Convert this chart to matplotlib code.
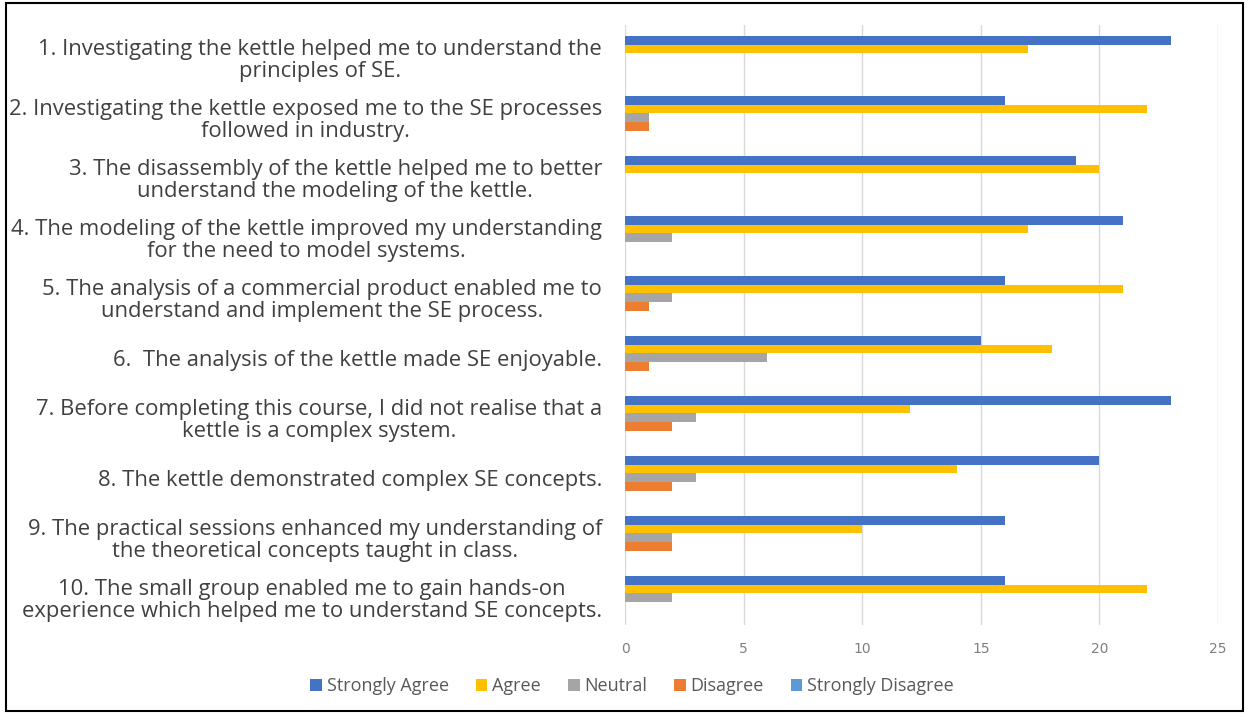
import numpy as np
from matplotlib import pyplot as plt
from matplotlib.patches import Rectangle

questions = [
    "1. Investigating the kettle helped me to understand the\nprinciples of SE.",
    "2. Investigating the kettle exposed me to the SE processes\nfollowed in industry.",
    "3. The disassembly of the kettle helped me to better\nunderstand the modeling of the kettle.",
    "4. The modeling of the kettle improved my understanding\nfor the need to model systems.",
    "5. The analysis of a commercial product enabled me to\nunderstand and implement the SE process.",
    "6.  The analysis of the kettle made SE enjoyable.",
    "7. Before completing this course, I did not realise that a\nkettle is a complex system.",
    "8. The kettle demonstrated complex SE concepts.",
    "9. The practical sessions enhanced my understanding of\nthe theoretical concepts taught in class.",
    "10. The small group enabled me to gain hands-on\nexperience which helped me to understand SE concepts.",
]

strongly_agree = [23, 16, 19, 21, 16, 15, 23, 20, 16, 16]
agree = [17, 22, 20, 17, 21, 18, 12, 14, 10, 22]
neutral = [0, 1, 0, 2, 2, 6, 3, 3, 2, 2]
disagree = [0, 1, 0, 0, 1, 1, 2, 2, 2, 0]
strongly_disagree = [0, 0, 0, 0, 0, 0, 0, 0, 0, 0]

series = [
    ("Strongly Agree", strongly_agree, "#4472C4"),
    ("Agree", agree, "#FFC000"),
    ("Neutral", neutral, "#A5A5A5"),
    ("Disagree", disagree, "#ED7D31"),
    ("Strongly Disagree", strongly_disagree, "#5B9BD5"),
]

fig = plt.figure(figsize=(12.48, 7.13), dpi=100)
ax = fig.add_axes([625 / 1248, 1 - 625 / 713, (1218 - 625) / 1248, 600 / 713])

# frame around the whole picture
fig.patches.append(Rectangle((6 / 1248, 2 / 713), 1237 / 1248, 708 / 713,
                             transform=fig.transFigure, fill=False,
                             edgecolor="black", linewidth=1.5))

y = np.arange(len(questions))
h = 0.145
for i, (name, vals, col) in enumerate(series):
    ax.barh(y + (i - 2) * h, vals, height=h, color=col, label=name, zorder=3)

shift = -0.046
ax.set_xlim(0, 25)
ax.set_ylim(len(questions) - 0.5 + shift, -0.5 + shift)
ax.set_xticks(range(0, 26, 5))
ax.xaxis.grid(True, color="#D9D9D9", linewidth=1, zorder=0)
for s in ax.spines.values():
    s.set_visible(False)
ax.tick_params(axis="x", length=0, labelsize=10, labelcolor="#7F7F7F", pad=12)
ax.set_yticks(y)
ax.set_yticklabels(questions, fontsize=15.85, color="#404040", family="Open Sans",
                   multialignment="center", linespacing=1.04)
ax.tick_params(axis="y", length=0, pad=16.5)

fig.legend(loc="center", bbox_to_anchor=(632 / 1248, 1 - 686 / 713), ncol=5,
           frameon=False, prop={"family": "Open Sans", "size": 13},
           labelcolor="#595959", handlelength=0.65, handleheight=0.65,
           handletextpad=0.25, columnspacing=1.5)

fig.savefig("out.png", dpi=100)
